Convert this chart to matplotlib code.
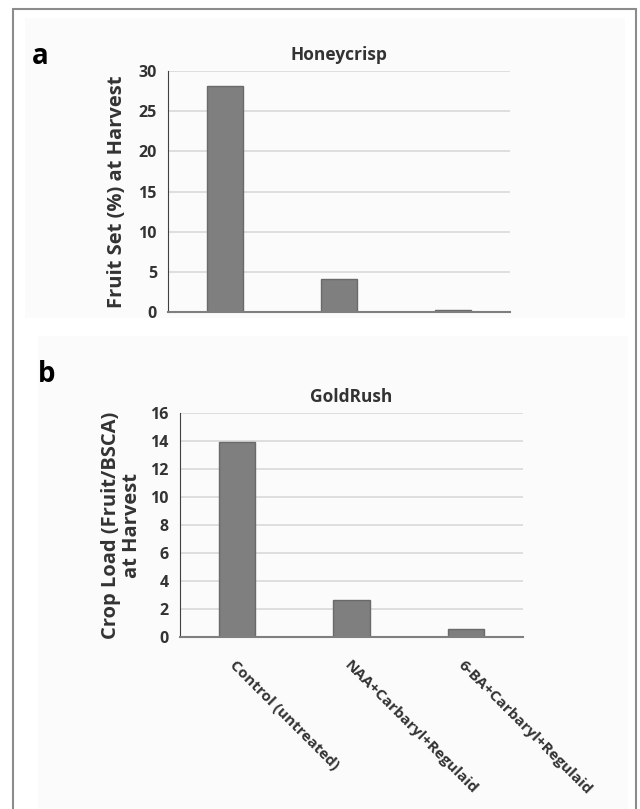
import matplotlib.pyplot as plt
from matplotlib.patches import Rectangle

# Data
treatments = ["Control (untreated)", "NAA+Carbaryl+Regulaid", "6-BA+Carbaryl+Regulaid"]
fruit_set = [28.1, 4.1, 0.2]
crop_load = [13.9, 2.65, 0.55]

plt.rcParams['font.family'] = ['Open Sans', 'DejaVu Sans']

bar_color = "#7f7f7f"
edge_color = "#6a6a6a"
grid_color = "#d9d9d9"
text_color = "#333333"

fig = plt.figure(figsize=(6.4, 8.09), dpi=100)

# outer frame
fig.patches.append(Rectangle((13 / 640, -0.01), 623 / 640, 1 - 9 / 809 + 0.01,
                             transform=fig.transFigure, fill=False,
                             edgecolor="#8c8c8c", linewidth=1.5, zorder=5))
# faint panel backgrounds
fig.patches.append(Rectangle((25 / 640, 1 - 318 / 809), 600 / 640, 300 / 809,
                             transform=fig.transFigure, facecolor="#fbfbfb",
                             edgecolor="none", zorder=-5))
fig.patches.append(Rectangle((38 / 640, -0.01), 590 / 640, 1 - 336 / 809 + 0.01,
                             transform=fig.transFigure, facecolor="#fbfbfb",
                             edgecolor="none", zorder=-5))


def style_axes(ax, ymax, step):
    ax.set_facecolor("none")
    ax.set_xlim(-0.5, 2.5)
    ax.set_ylim(0, ymax)
    ax.set_yticks(range(0, ymax + 1, step))
    ax.yaxis.grid(True, color=grid_color, linewidth=1.2)
    ax.set_axisbelow(True)
    for s in ["top", "right"]:
        ax.spines[s].set_visible(False)
    ax.spines["left"].set_color("#404040")
    ax.spines["bottom"].set_color("#7f7f7f")
    ax.spines["bottom"].set_linewidth(1.5)
    ax.tick_params(axis="y", length=0, labelsize=11.5, labelcolor=text_color, pad=8)
    ax.tick_params(axis="x", length=0)
    for lab in ax.get_yticklabels():
        lab.set_fontweight("bold")


# Panel a
ax1 = fig.add_axes([168 / 640, 1 - 312 / 809, 342 / 640, 241 / 809])
ax1.bar(range(3), fruit_set, width=0.32, color=bar_color, edgecolor=edge_color, linewidth=1)
style_axes(ax1, 30, 5)
ax1.set_xticks([])
ax1.set_title("Honeycrisp", fontsize=12.5, fontweight="bold", color=text_color, pad=8)
ax1.set_ylabel("Fruit Set (%) at Harvest", fontsize=14.5, fontweight="bold",
               color=text_color, labelpad=8)
fig.text(40 / 640, 1 - 57 / 809, "a", fontsize=20, fontweight="bold", ha="center", va="center")

# Panel b
ax2 = fig.add_axes([180 / 640, 1 - 637 / 809, 343 / 640, 224 / 809])
ax2.bar(range(3), crop_load, width=0.32, color=bar_color, edgecolor=edge_color, linewidth=1)
style_axes(ax2, 16, 2)
ax2.set_xticks(range(3))
ax2.set_xticklabels(treatments, rotation=-45, ha="left", rotation_mode="anchor",
                    fontsize=11, fontweight="bold", color=text_color)
ax2.tick_params(axis="x", pad=15)
ax2.set_title("GoldRush", fontsize=12.5, fontweight="bold", color=text_color, pad=8)
ax2.set_ylabel("Crop Load (Fruit/BSCA)\nat Harvest", fontsize=14.5, fontweight="bold",
               color=text_color, labelpad=6, linespacing=1.05)
fig.text(47 / 640, 1 - 375 / 809, "b", fontsize=20, fontweight="bold", ha="center", va="center")

fig.savefig("out.png", dpi=100)
